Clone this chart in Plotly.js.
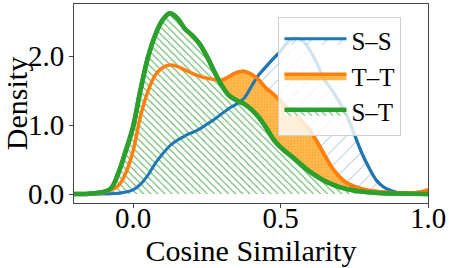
<!DOCTYPE html>
<html>
<head>
<meta charset="utf-8">
<script src="https://cdn.plot.ly/plotly-3.0.1.min.js"></script>
<style>html,body{margin:0;padding:0;background:#fff;}#chart{width:449px;height:268px;}</style>
</head>
<body>
<div id="chart"></div>
<script>
// Cosine similarity grid (x) and estimated densities
var xSS = [-0.2,-0.1,-0.05,0,0.025,0.05,0.075,0.1,0.125,0.15,0.175,0.2,0.225,0.25,0.275,0.3,0.325,0.35,0.375,0.4,0.425,0.45,0.475,0.5,0.525,0.55,0.575,0.6,0.625,0.65,0.675,0.7,0.725,0.75,0.775,0.8,0.825,0.85,0.875,0.9,0.95,1.0];
var densSS = [0,0.003,0.01,0.06,0.14,0.27,0.44,0.58,0.7,0.78,0.84,0.89,0.94,1.01,1.08,1.16,1.24,1.3,1.38,1.55,1.72,1.84,1.96,2.07,2.2,2.26,2.22,2.08,1.88,1.65,1.5,1.33,1.13,0.87,0.6,0.38,0.2,0.1,0.05,0.02,0.005,0];

var xTT = [-0.2,-0.15,-0.1,-0.05,-0.025,0,0.025,0.05,0.075,0.1,0.125,0.15,0.175,0.2,0.225,0.25,0.275,0.3,0.325,0.35,0.375,0.4,0.425,0.45,0.475,0.5,0.525,0.55,0.575,0.6,0.625,0.65,0.675,0.7,0.725,0.75,0.8,0.85,0.9,0.95,0.975,1.0];
var densTT = [0,0.003,0.02,0.12,0.3,0.62,1.12,1.48,1.72,1.83,1.87,1.85,1.8,1.75,1.71,1.68,1.66,1.65,1.7,1.76,1.78,1.74,1.66,1.54,1.45,1.35,1.24,1.15,1.05,0.92,0.75,0.56,0.38,0.25,0.16,0.11,0.05,0.03,0.015,0.015,0.03,0.06];

var xST = [-0.2,-0.15,-0.1,-0.075,-0.05,-0.025,0,0.025,0.05,0.075,0.1,0.125,0.15,0.175,0.2,0.225,0.25,0.275,0.3,0.325,0.35,0.375,0.4,0.425,0.45,0.475,0.5,0.55,0.6,0.65,0.7,0.75,0.8,0.85,0.9,1.0];
var densST = [0,0.005,0.03,0.08,0.3,0.62,0.97,1.5,1.97,2.3,2.52,2.62,2.55,2.4,2.3,2.18,2.0,1.78,1.58,1.43,1.36,1.31,1.23,1.12,0.97,0.8,0.68,0.5,0.32,0.19,0.1,0.05,0.025,0.012,0.006,0];

var names = ['S\u2013S', 'T\u2013T', 'S\u2013T'];
var xTicks = [0.0, 0.5, 1.0];
var xTickText = ['0.0', '0.5', '1.0'];
var yTicks = [0.0, 1.0, 2.0];
var yTickText = ['0.0', '1.0', '2.0'];

var SERIF = 'Liberation Serif, Times New Roman, serif';
var cBlue = '#1f77b4', cOrange = '#ff7f0e', cGreen = '#2ca02c';

function fillTrace(x, y, name, lineColor, lw, pattern, fillcolor) {
  return {
    x: x, y: y, name: name, type: 'scatter', mode: 'lines',
    line: {color: lineColor, width: lw, shape: 'spline', smoothing: 1},
    fill: 'tozeroy', fillcolor: fillcolor, fillpattern: pattern,
    showlegend: true, hoverinfo: 'skip'
  };
}
function lineTrace(x, y, color, lw) {
  return {
    x: x, y: y, type: 'scatter', mode: 'lines',
    line: {color: color, width: lw, shape: 'spline', smoothing: 1},
    showlegend: false, hoverinfo: 'skip'
  };
}

var data = [
  fillTrace(xSS, densSS, names[0], cBlue, 3,
    {shape: '/', fgcolor: 'rgba(31,119,180,0.6)', bgcolor: 'rgba(255,255,255,0)', size: 11, solidity: 0.07}, 'rgba(255,255,255,0)'),
  fillTrace(xTT, densTT, names[1], cOrange, 3.5,
    {shape: '.', fgcolor: 'rgba(250,150,30,0.5)', bgcolor: 'rgba(255,175,50,0.85)', size: 3, solidity: 0.3}, 'rgba(255,175,50,0.85)'),
  fillTrace(xST, densST, names[2], cGreen, 4.5,
    {shape: '\\', fgcolor: 'rgba(44,160,44,0.85)', bgcolor: '#ffffff', size: 5, solidity: 0.2}, '#ffffff'),
  lineTrace(xSS, densSS, cBlue, 3),
  lineTrace(xTT, densTT, cOrange, 3.5),
  lineTrace(xST, densST, cGreen, 4.5)
];

var axisCommon = {
  showline: true, mirror: true, linecolor: '#444', linewidth: 1,
  ticks: 'outside', ticklen: 4, tickwidth: 1, tickcolor: '#444',
  showgrid: false, zeroline: false, automargin: false,
  tickfont: {family: SERIF, size: 29, color: '#000'}
};

var layout = {
  width: 449, height: 268,
  margin: {l: 74, r: 21, t: 4, b: 65},
  paper_bgcolor: '#fff', plot_bgcolor: '#fff',
  xaxis: Object.assign({}, axisCommon, {
    range: [-0.2, 1.0], tickmode: 'array', tickvals: xTicks, ticktext: xTickText,
    ticklabelstandoff: -15,
    title: {text: 'Cosine Similarity', font: {family: SERIF, size: 30, color: '#000'}, standoff: 2}
  }),
  yaxis: Object.assign({}, axisCommon, {
    range: [-0.13, 2.754], tickmode: 'array', tickvals: yTicks, ticktext: yTickText,
    ticklabelstandoff: -1,
    title: {text: 'Density', font: {family: SERIF, size: 30, color: '#000'}, standoff: 0}
  }),
  legend: {
    x: 0.925, xanchor: 'right', y: 0.935, yanchor: 'top',
    bgcolor: 'rgba(255,255,255,0.8)', bordercolor: '#d0d0d0', borderwidth: 1,
    font: {family: SERIF, size: 25, color: '#000'},
    itemwidth: 62, tracegroupgap: 0
  },
  showlegend: true
};

Plotly.newPlot('chart', data, layout, {staticPlot: true, displayModeBar: false});
</script>
</body>
</html>
